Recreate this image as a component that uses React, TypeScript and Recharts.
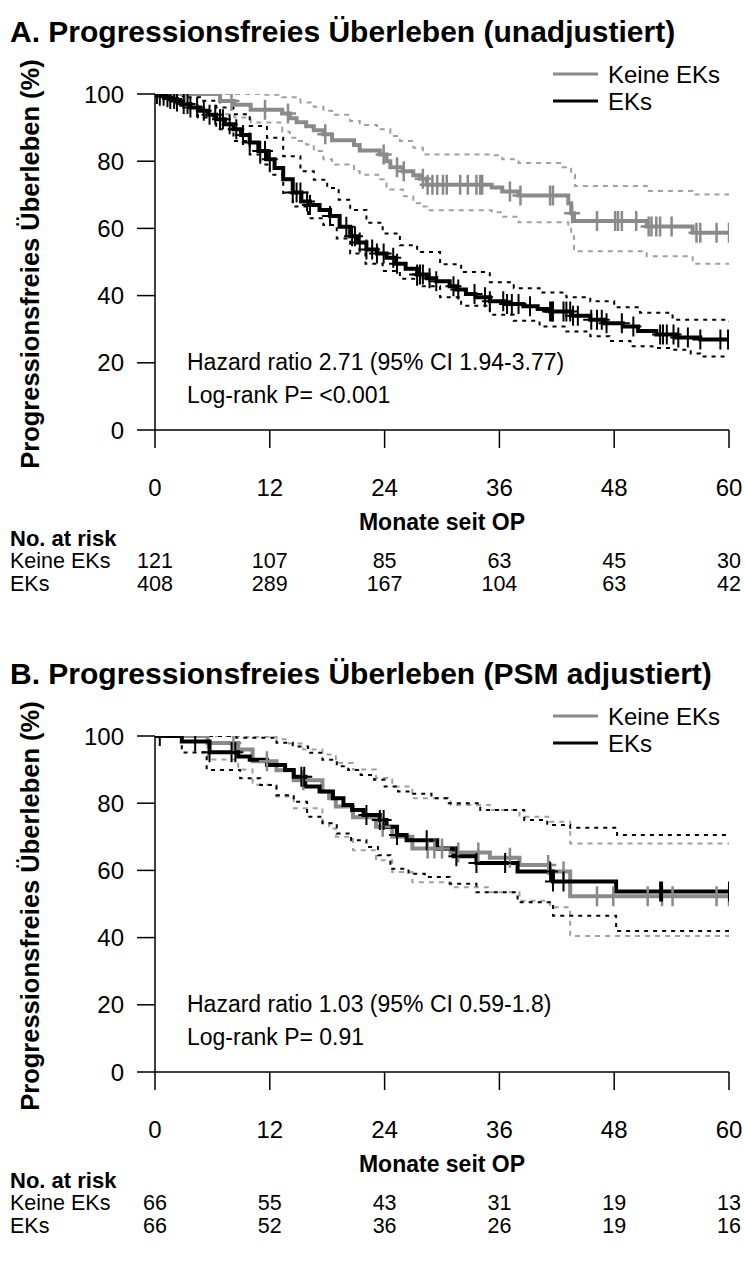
import React from 'react';
import { ComposedChart, Line, Scatter, XAxis, YAxis } from 'recharts';

const FONT = '"Liberation Sans", Arial, Helvetica, sans-serif';

const MONTHS = [0, 12, 24, 36, 48, 60];
const Y_TICKS = [0, 20, 40, 60, 80, 100];
const GROUPS = ['Keine EKs', 'EKs'];

// ---- Panel A (unadjustiert): [month, survival %] ----
const A_KEINE_KM = [[0, 100], [6.8, 97.9], [8.3, 96.8], [10, 95.3], [13.3, 94.2], [14.1, 92.8], [14.8, 91.6], [15.8, 90.4], [16.6, 89.2], [17.6, 88], [18.5, 86.2], [20.8, 84.8], [21.4, 83.2], [23.5, 82], [24.2, 80], [24.6, 78.2], [25.9, 77], [27, 75.8], [27.7, 74.8], [28.4, 73], [35.2, 72.2], [36.3, 71], [38, 69.8], [43.2, 67.5], [43.5, 64.5], [43.8, 62.2], [51.4, 60.6], [56.2, 58.7], [60, 58.7]];
const A_KEINE_HI = [[0, 100], [8.3, 100], [11, 99.8], [13.3, 99], [15.2, 97.5], [16.6, 96.2], [17.6, 95], [18.5, 93.8], [20.4, 92], [21.4, 90.8], [23.2, 89.5], [24.6, 87.5], [25.6, 86], [27, 84], [28, 82], [35.2, 81.8], [36.3, 80.6], [38, 79.5], [42.6, 78.2], [43.5, 76], [43.9, 72.6], [51.4, 71.1], [56.2, 70.1], [60, 70.1]];
const A_KEINE_LO = [[0, 100], [6.8, 94], [8.3, 93], [10, 91.5], [13.3, 88.8], [14.1, 87], [14.8, 86], [15.8, 85], [16.6, 83], [17.6, 80.6], [18.5, 79], [20.8, 77], [21.4, 76], [23.5, 74.6], [24.2, 72.5], [24.6, 71.6], [25.9, 69.6], [27, 67.5], [27.7, 66.5], [28.4, 65.4], [35.2, 64.8], [36.3, 63.5], [38, 61.8], [43.2, 60.7], [43.5, 57.7], [43.8, 53.2], [51.4, 51.7], [56.2, 49.5], [60, 49.5]];
const A_KEINE_CENS = [3.1, 8, 11.5, 13.9, 17.8, 23.9, 25.3, 26, 28, 28.5, 29, 29.5, 30.1, 30.5, 31.9, 32.7, 33.6, 34, 34.2, 37.1, 38.2, 41.3, 41.6, 43.6, 46.2, 48.1, 48.4, 48.8, 50.3, 51.6, 51.9, 52.4, 52.8, 54, 56.6, 57, 58.7, 60];

const A_EKS_KM = [[0, 100], [0.5, 99.5], [1, 99], [1.5, 98.5], [2.3, 97.8], [2.9, 97], [3.7, 96], [4.7, 95], [5.5, 93.8], [6.4, 92.5], [7.3, 91], [8.2, 89.5], [9, 87.8], [9.9, 85.6], [10.8, 83], [11.7, 80.6], [12.5, 78], [13.4, 74.6], [14.4, 70.7], [15.3, 68], [16.2, 67], [17.2, 65.5], [18.3, 63.7], [19.3, 60.5], [20.4, 57.7], [21.2, 55.8], [22.1, 53.7], [23.2, 52.5], [24.2, 51.3], [25.2, 49.5], [26.2, 48], [27.4, 46.3], [28.4, 45.2], [29.4, 44.3], [30.8, 42.8], [31.5, 41.8], [32.5, 40.5], [33.5, 39.5], [35, 38.3], [36.5, 37.5], [38.5, 36.8], [40, 36], [41.3, 35.3], [43.5, 34], [45.5, 32.8], [47, 31.8], [48.9, 30.8], [50.5, 29.5], [52.4, 28.4], [54.5, 27.5], [57, 26.9], [60, 26.9]];
const A_EKS_HI = [[0, 100], [1.5, 99.8], [2.9, 99], [4.7, 98], [6.4, 96], [8.2, 94], [9.9, 90.5], [11.7, 87], [13.4, 81.5], [15.2, 77], [16.6, 74.5], [18, 72], [19.2, 68.5], [20.4, 65.5], [22.1, 61.7], [23.8, 58.5], [25.6, 55], [27.4, 53], [29.8, 49.3], [32, 47], [35, 44], [37.5, 42.2], [40.2, 40.9], [43, 39.5], [45.5, 38.3], [48, 36.5], [50.7, 34.9], [54.1, 32.8], [60, 32.3]];
const A_EKS_LO = [[0, 100], [1, 99], [2.3, 96.5], [4.5, 93], [6.4, 89.5], [8.2, 86], [9.9, 82], [11, 79], [12, 76], [13.4, 70.5], [14.4, 66.5], [16, 63], [17.6, 61], [19, 57], [20.4, 52.5], [22, 49.5], [23.8, 47.3], [25.6, 45], [27.4, 42.8], [29.8, 39.5], [32, 37], [35, 34.3], [37.5, 32.5], [40.2, 30.8], [43, 29.3], [45.5, 27.9], [47.5, 26.5], [49.7, 24.9], [52, 24.4], [54.1, 23.9], [56, 22.8], [57, 21.9], [60, 21.9]];
const A_EKS_CENS = [0.2, 0.5, 0.9, 1.3, 1.6, 2, 2.3, 3, 3.4, 3.7, 4.4, 5.1, 5.7, 6.3, 6.8, 7.1, 7.8, 8.5, 9.2, 9.9, 11, 11.5, 12, 14.4, 14.8, 15.2, 15.9, 16.2, 18.3, 20, 20.6, 20.9, 21.4, 22.1, 22.7, 23.2, 23.9, 24.9, 25.3, 27.4, 27.7, 28, 28.7, 29.4, 31.2, 31.7, 33.4, 34.5, 35, 36.4, 36.8, 37.3, 38, 39.2, 41.3, 41.5, 41.6, 42.7, 43, 43.4, 43.7, 44.2, 45.6, 46.2, 46.7, 47.2, 48.8, 50, 52.8, 53.1, 53.5, 54.2, 54.7, 55.7, 57, 59.1, 59.9];

const A_RISK_KEINE = [121, 107, 85, 63, 45, 30];
const A_RISK_EKS = [408, 289, 167, 104, 63, 42];

// ---- Panel B (PSM adjustiert) ----
const B_KEINE_KM = [[0, 100], [5.5, 97.9], [8.7, 96], [10.2, 92.5], [12.7, 89.8], [14.5, 86.8], [17.5, 83.5], [18.2, 81.5], [18.9, 79], [20.7, 75.8], [23.1, 73], [24.8, 70], [26.9, 66.5], [30.9, 65.3], [35, 63.8], [38.1, 61.6], [41.3, 59.7], [43.4, 52.3], [60, 52.3]];
const B_KEINE_HI = [[0, 100], [9.6, 99.8], [12.7, 99], [14, 97.8], [15.5, 96], [17.5, 94.5], [18.9, 92], [20.7, 90], [23.1, 87.5], [24.8, 85], [26.9, 81.5], [30.9, 79.5], [35, 78], [38.1, 76], [41.3, 74.5], [43.4, 68], [60, 68]];
const B_KEINE_LO = [[0, 100], [5.5, 93], [8.7, 90], [10.2, 85.5], [12.7, 82], [14.5, 78.5], [17.5, 74.5], [18.2, 72.5], [18.9, 70], [20.7, 66], [23.1, 63], [24.8, 59.5], [26.9, 56.5], [30.9, 55], [35, 53.5], [38.1, 51], [41.3, 49], [43.4, 40.5], [60, 40.5]];
const B_KEINE_CENS = [8.2, 11.7, 15.5, 23.8, 28.5, 29.2, 30, 31.7, 33.8, 37.1, 41.1, 42.7, 46.2, 47.9, 51.5, 53, 54.1, 58.7, 60];

const B_EKS_KM = [[0, 100], [2.8, 98.4], [5.7, 95.2], [8.7, 93.9], [9.9, 92.9], [11.7, 91.4], [13.6, 89.9], [14.5, 87.9], [15.7, 85], [17.2, 83.5], [18.6, 81.5], [19.7, 79.5], [20.6, 78], [21.8, 76.5], [23.5, 75], [24.2, 73], [25.3, 70.5], [26.3, 69], [29.5, 66.5], [31.2, 64.2], [33.6, 62.2], [37.9, 59.7], [41.6, 56.7], [48.2, 53.7], [60, 53.7]];
const B_EKS_HI = [[0, 100], [8.5, 99.5], [12.7, 98], [14.4, 96.9], [16, 95], [17.5, 92.9], [19, 91], [20.2, 89.9], [21.5, 88.4], [22.9, 87], [24, 85], [25.4, 83.5], [27, 82.8], [28.9, 81.5], [30.6, 80], [34, 78], [38.6, 75], [41, 73.5], [43.4, 72.7], [48.3, 70.5], [60, 70.5]];
const B_EKS_LO = [[0, 100], [2.8, 95.1], [5.4, 89.9], [8.9, 87.4], [11, 85.4], [12.7, 82.4], [14.5, 80.4], [15.9, 76], [17.5, 74], [19, 71], [20.5, 69], [22.1, 67], [23.3, 64.5], [24.6, 60.5], [26.5, 59], [28.2, 58], [30.8, 56], [33.6, 53.5], [37.9, 50.5], [41.6, 46.5], [48.2, 42], [60, 42]];
const B_EKS_CENS = [0.5, 4.2, 5.7, 8, 8.4, 15.3, 15.6, 22.1, 23.5, 23.9, 25.3, 28.4, 31.5, 33.6, 36.6, 41.3, 41.6, 42.7, 52.8, 53, 60];

const B_RISK_KEINE = [66, 55, 43, 31, 19, 13];
const B_RISK_EKS = [66, 52, 36, 26, 19, 16];

const GRAY = '#8a8a8a';
const GRAY_CI = '#a0a0a0';
const BLACK = '#000000';

// plot box inside each panel
const PLOT_L = 155;
const PLOT_R = 729;

const toPts = (arr) => arr.map(([t, s]) => ({ t, s }));
const stepAt = (curve, t) => {
  let s = curve[0][1];
  for (const [ct, cs] of curve) if (ct <= t) s = cs;
  return s;
};
const censPts = (curve, times) => times.map((t) => ({ t, s: stepAt(curve, t) }));

const makeCross = (color, w) => (props) => {
  const { cx, cy } = props;
  if (cx == null || cy == null) return null;
  return (
    <path
      d={`M${cx - 8},${cy}H${cx + 8}M${cx},${cy - 10}V${cy + 10}`}
      stroke={color}
      strokeWidth={w}
      fill="none"
    />
  );
};

function Panel({ top, title, keine, eks, hr, p, riskKeine, riskEks }) {
  const W = 745;
  const H = 500;
  const textStyle = { fontFamily: FONT, fill: '#000' };
  const riskX = MONTHS.map((m) => PLOT_L + (m / 60) * (PLOT_R - PLOT_L));
  return (
    <div style={{ position: 'absolute', left: 0, top, width: W, height: 600 }}>
      <ComposedChart
        width={W}
        height={H}
        margin={{ top: 94, right: W - PLOT_R, bottom: 10, left: PLOT_L - 60 }}
      >
        <XAxis
          type="number"
          dataKey="t"
          domain={[0, 60]}
          ticks={MONTHS}
          allowDataOverflow
          height={60}
          tickSize={18}
          tickMargin={31}
          stroke="#000"
          strokeWidth={1.5}
          tick={{ fill: '#000', fontSize: 24, fontFamily: FONT }}
        />
        <YAxis
          type="number"
          dataKey="s"
          domain={[0, 100]}
          ticks={Y_TICKS}
          allowDataOverflow
          width={60}
          tickSize={18}
          tickMargin={13}
          stroke="#000"
          strokeWidth={1.5}
          tick={{ fill: '#000', fontSize: 24, fontFamily: FONT }}
        />
        <Line data={toPts(keine.hi)} dataKey="s" type="stepAfter" stroke={GRAY_CI} strokeWidth={2} strokeDasharray="5 5" dot={false} isAnimationActive={false} />
        <Line data={toPts(keine.lo)} dataKey="s" type="stepAfter" stroke={GRAY_CI} strokeWidth={2} strokeDasharray="5 5" dot={false} isAnimationActive={false} />
        <Line data={toPts(eks.hi)} dataKey="s" type="stepAfter" stroke={BLACK} strokeWidth={2} strokeDasharray="4 5" dot={false} isAnimationActive={false} />
        <Line data={toPts(eks.lo)} dataKey="s" type="stepAfter" stroke={BLACK} strokeWidth={2} strokeDasharray="4 5" dot={false} isAnimationActive={false} />
        <Line data={toPts(keine.km)} dataKey="s" type="stepAfter" stroke={GRAY} strokeWidth={4} dot={false} isAnimationActive={false} />
        <Scatter data={censPts(keine.km, keine.cens)} dataKey="s" shape={makeCross(GRAY, 2.5)} isAnimationActive={false} />
        <Line data={toPts(eks.km)} dataKey="s" type="stepAfter" stroke={BLACK} strokeWidth={4} dot={false} isAnimationActive={false} />
        <Scatter data={censPts(eks.km, eks.cens)} dataKey="s" shape={makeCross(BLACK, 2)} isAnimationActive={false} />
      </ComposedChart>
      <svg width={W} height={600} style={{ position: 'absolute', left: 0, top: 0, pointerEvents: 'none' }}>
        <text x={10} y={31} dominantBaseline="central" fontSize={30} fontWeight="bold" style={textStyle}>{title}</text>
        <text transform="translate(30,264) rotate(-90)" textAnchor="middle" dominantBaseline="central" fontSize={25.5} fontWeight="bold" style={textStyle}>
          Progressionsfreies Überleben (%)
        </text>
        {/* legend */}
        <line x1={553} x2={598} y1={74} y2={74} stroke={GRAY} strokeWidth={3} />
        <text x={608} y={74} dominantBaseline="central" fontSize={24} style={textStyle}>{GROUPS[0]}</text>
        <line x1={553} x2={598} y1={101} y2={101} stroke={BLACK} strokeWidth={3} />
        <text x={608} y={101} dominantBaseline="central" fontSize={24} style={textStyle}>{GROUPS[1]}</text>
        {/* annotations */}
        <text x={187} y={362} dominantBaseline="central" fontSize={23} style={textStyle}>{hr}</text>
        <text x={187} y={395} dominantBaseline="central" fontSize={23} style={textStyle}>{p}</text>
        {/* risk table */}
        <text x={442} y={522} textAnchor="middle" dominantBaseline="central" fontSize={23} fontWeight="bold" style={textStyle}>Monate seit OP</text>
        <text x={10} y={538} dominantBaseline="central" fontSize={22} fontWeight="bold" style={textStyle}>No. at risk</text>
        <text x={10} y={561} dominantBaseline="central" fontSize={21.5} style={textStyle}>{GROUPS[0]}</text>
        <text x={10} y={584} dominantBaseline="central" fontSize={21.5} style={textStyle}>{GROUPS[1]}</text>
        {riskKeine.map((n, i) => (
          <text key={`k${i}`} x={riskX[i]} y={561} textAnchor="middle" dominantBaseline="central" fontSize={21.5} style={textStyle}>{n}</text>
        ))}
        {riskEks.map((n, i) => (
          <text key={`e${i}`} x={riskX[i]} y={584} textAnchor="middle" dominantBaseline="central" fontSize={21.5} style={textStyle}>{n}</text>
        ))}
      </svg>
    </div>
  );
}

export default function App() {
  return (
    <div style={{ position: 'absolute', left: 0, top: 0, width: 745, height: 1267, background: '#fff', overflow: 'hidden' }}>
      <Panel
        top={0}
        title="A. Progressionsfreies Überleben (unadjustiert)"
        keine={{ km: A_KEINE_KM, hi: A_KEINE_HI, lo: A_KEINE_LO, cens: A_KEINE_CENS }}
        eks={{ km: A_EKS_KM, hi: A_EKS_HI, lo: A_EKS_LO, cens: A_EKS_CENS }}
        hr="Hazard ratio 2.71 (95% CI 1.94-3.77)"
        p="Log-rank P= <0.001"
        riskKeine={A_RISK_KEINE}
        riskEks={A_RISK_EKS}
      />
      <Panel
        top={642}
        title="B. Progressionsfreies Überleben (PSM adjustiert)"
        keine={{ km: B_KEINE_KM, hi: B_KEINE_HI, lo: B_KEINE_LO, cens: B_KEINE_CENS }}
        eks={{ km: B_EKS_KM, hi: B_EKS_HI, lo: B_EKS_LO, cens: B_EKS_CENS }}
        hr="Hazard ratio 1.03 (95% CI 0.59-1.8)"
        p="Log-rank P= 0.91"
        riskKeine={B_RISK_KEINE}
        riskEks={B_RISK_EKS}
      />
    </div>
  );
}
